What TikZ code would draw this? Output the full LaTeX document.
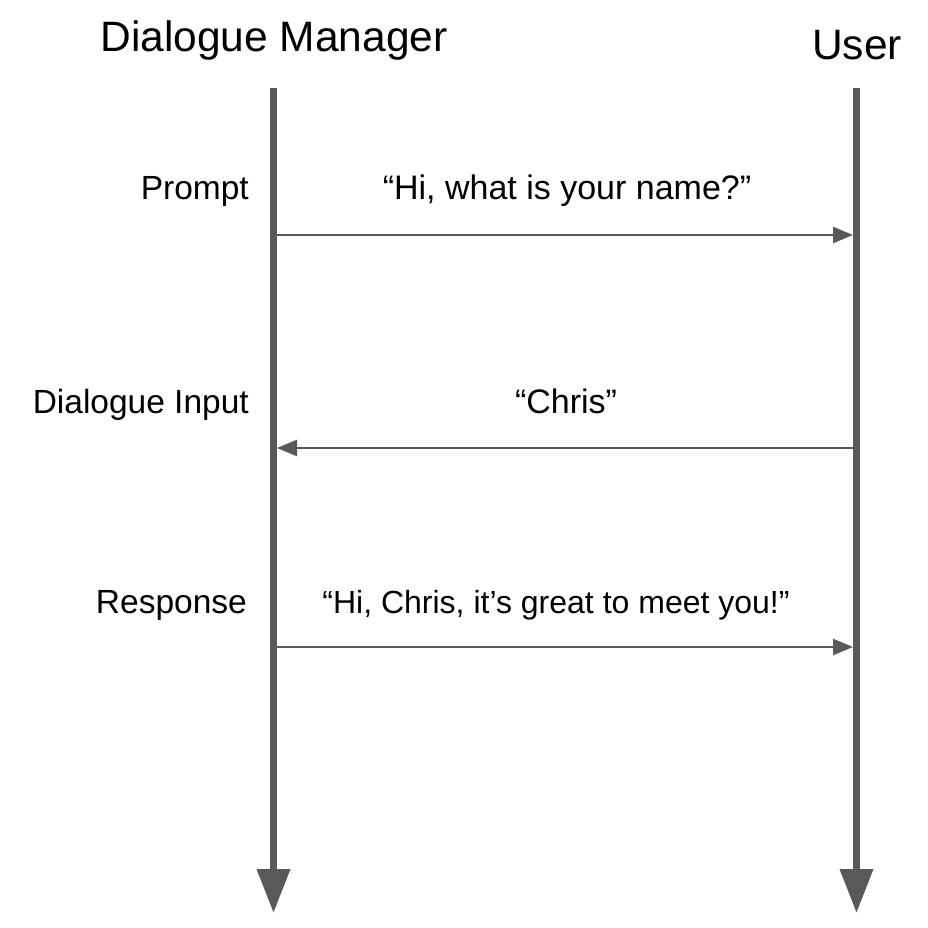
\documentclass[tikz,border=0pt]{standalone}
\usepackage{fontspec}
\setmainfont{Liberation Sans}
\usetikzlibrary{arrows.meta}
\definecolor{lifegray}{HTML}{595959}
\tikzset{
  lifeline/.style={draw=lifegray, line width=7pt, -{Triangle[length=44pt,width=32pt]}},
  msg/.style={draw=lifegray, line width=2.4pt, -{Triangle[length=20pt,width=16pt]}},
  title/.style={font=\fontsize{42.5}{50}\selectfont, anchor=base, inner sep=0pt},
  label/.style={font=\fontsize{33.5}{40}\selectfont, anchor=base east, inner sep=0pt},
  msgtext/.style={font=\fontsize{34}{40}\selectfont, anchor=base, inner sep=0pt}
}
\begin{document}
\begin{tikzpicture}[x=1pt,y=-1pt]
\useasboundingbox[fill=white] (0,0) rectangle (928,928);
% actors
\node[title] (dm) at (274,52) {Dialogue Manager};
\node[title] (user) at (857,60) {User};
% lifelines
\coordinate (dmtop) at (273.5,88);
\coordinate (dmbot) at (273.5,913);
\coordinate (ustop) at (856.5,88);
\coordinate (usbot) at (856.5,913);
\draw[lifeline] (dmtop) -- (dmbot);
\draw[lifeline] (ustop) -- (usbot);
% message anchors
\coordinate (a1s) at (277,235);
\coordinate (a1e) at (853,235);
\coordinate (a2s) at (853,448);
\coordinate (a2e) at (277,448);
\coordinate (a3s) at (277,647);
\coordinate (a3e) at (853,647);
% labels
\node[label] (l1) at (249,199) {Prompt};
\node[label] (l2) at (249,413) {Dialogue Input};
\node[label] (l3) at (247,613) {Response};
% message texts
\node[msgtext] (m1) at (567,199) {“Hi, what is your name?”};
\node[msgtext] (m2) at (566,413) {“Chris”};
\node[msgtext, font=\fontsize{32}{38}\selectfont] (m3) at (556,613) {“Hi, Chris, it’s great to meet you!”};
% messages
\draw[msg] (a1s) -- (a1e);
\draw[msg] (a2s) -- (a2e);
\draw[msg] (a3s) -- (a3e);
\end{tikzpicture}
\end{document}
